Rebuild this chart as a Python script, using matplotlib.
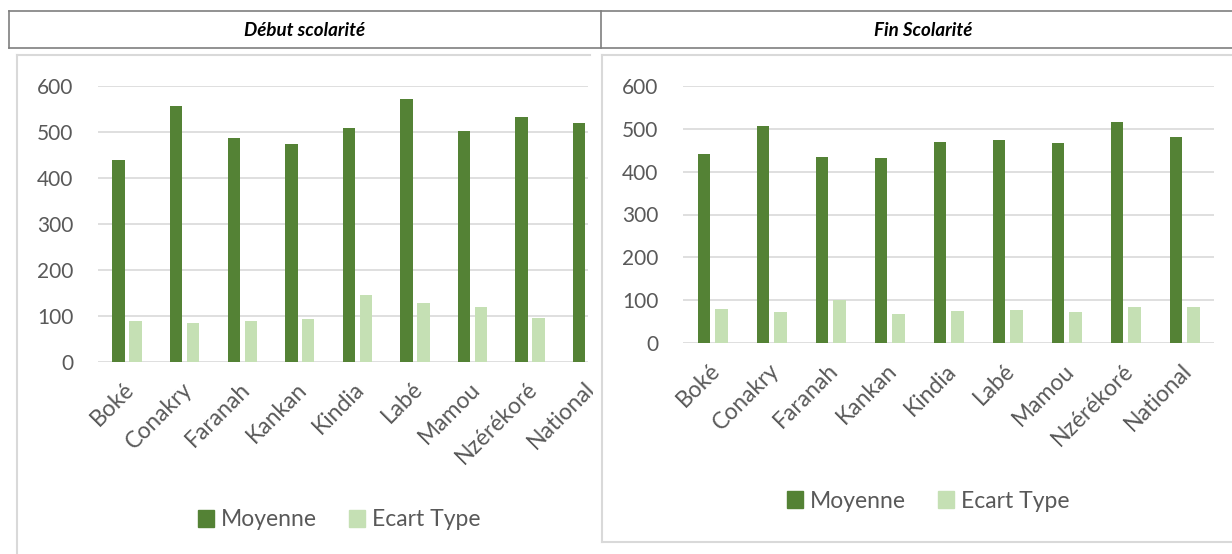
import numpy as np
import matplotlib
matplotlib.use('Agg')
import matplotlib.pyplot as plt
from matplotlib.lines import Line2D
from matplotlib.patches import Patch
from matplotlib.transforms import Bbox, TransformedBbox, ScaledTranslation

# Data
regions = ['Boké', 'Conakry', 'Faranah', 'Kankan', 'Kindia', 'Labé', 'Mamou', 'Nzérékoré', 'National']
debut_moyenne = [439, 555, 487, 474, 508, 572, 502, 532, 519]
debut_ecart = [89, 84, 89, 93, 144, 127, 118, 96, 105]   # National hidden (cropped)
fin_moyenne = [440, 507, 435, 431, 468, 474, 466, 515, 481]
fin_ecart = [81, 74, 102, 68, 75, 77, 72, 84, 85]
yticks = [0, 100, 200, 300, 400, 500, 600]

DARK = '#548235'
LIGHT = '#C5E0B4'
GRID = '#d9d9d9'
TXT = '#595959'
W, H = 1232, 554

plt.rcParams['font.family'] = ['Lato', 'DejaVu Sans']

fig = plt.figure(figsize=(W / 100, H / 100), dpi=100)


def fx(px):
    return px / W


def fy(py):
    return 1 - py / H


def hline(x0, x1, y, color, lw):
    fig.add_artist(Line2D([fx(x0), fx(x1)], [fy(y), fy(y)], color=color, lw=lw,
                          transform=fig.transFigure))


def vline(x, y0, y1, color, lw):
    fig.add_artist(Line2D([fx(x), fx(x)], [fy(y0), fy(y1)], color=color, lw=lw,
                          transform=fig.transFigure))


# header table
hline(9, 1240, 11, '#7f7f7f', 1.2)
hline(9, 1240, 47.5, '#7f7f7f', 1.2)
vline(9, 11, 47.5, '#7f7f7f', 1.2)
vline(601, 11, 47.5, '#7f7f7f', 1.2)
fig.text(fx(305), fy(30), 'Début scolarité', ha='center', va='center',
         fontsize=13.5, fontweight='bold', fontstyle='italic', color='black')
fig.text(fx(923), fy(30), 'Fin Scolarité', ha='center', va='center',
         fontsize=13.5, fontweight='bold', fontstyle='italic', color='black')

# chart frames
hline(16.5, 590, 55, GRID, 1.5)
vline(16.5, 55, 560, GRID, 1.5)
hline(602, 1240, 55, GRID, 1.5)
vline(602, 55, 542, GRID, 1.5)
hline(602, 1240, 542, GRID, 1.5)


def bar_chart(rect, moy, ect, xmax, legend_center, clip_x=None):
    ax = fig.add_axes(rect)
    x = np.arange(len(regions))
    ax.bar(x - 0.147, moy, width=0.215, color=DARK, zorder=3)
    ax.bar(x + 0.147, ect, width=0.215, color=LIGHT, zorder=3)
    ax.set_xlim(-0.5, xmax)
    ax.set_ylim(0, 600)
    ax.set_yticks(yticks)
    ax.grid(axis='y', color=GRID, lw=1.2, zorder=0)
    for s in ax.spines.values():
        s.set_visible(False)
    ax.tick_params(axis='y', length=0, pad=18, labelsize=15, labelcolor=TXT)
    ax.tick_params(axis='x', length=0, pad=0, labelsize=16.5, labelcolor=TXT)
    ax.set_xticks(x)
    ax.set_xticklabels(regions, rotation=45, ha='right', va='center',
                       rotation_mode='anchor')
    off = ScaledTranslation(4 / 100, -24 / 100, fig.dpi_scale_trans)
    for lab in ax.get_xticklabels():
        lab.set_transform(lab.get_transform() + off)
        if clip_x is not None:
            lab.set_clip_box(TransformedBbox(Bbox.from_extents(0, 0, fx(clip_x), 1),
                                             fig.transFigure))
            lab.set_clip_on(True)
    handles = [Patch(color=DARK, label='Moyenne'), Patch(color=LIGHT, label='Ecart Type')]
    fig.legend(handles=handles, loc='center', ncol=2, frameon=False,
               bbox_to_anchor=legend_center, fontsize=16.5, labelcolor=TXT,
               handlelength=0.7, handleheight=0.7, handletextpad=0.3,
               columnspacing=1.4)
    return ax


bar_chart([fx(98.3), fy(361.7), fx(587.7 - 98.3), (361.7 - 85.7) / H],
          debut_moyenne, debut_ecart, 7.94, (fx(339), fy(520)), clip_x=593)
bar_chart([fx(683.3), fy(343.3), fx(1214 - 683.3), (343.3 - 85.7) / H],
          fin_moyenne, fin_ecart, 8.5, (fx(928), fy(501)))

fig.savefig('out.png', dpi=100, facecolor='white')
